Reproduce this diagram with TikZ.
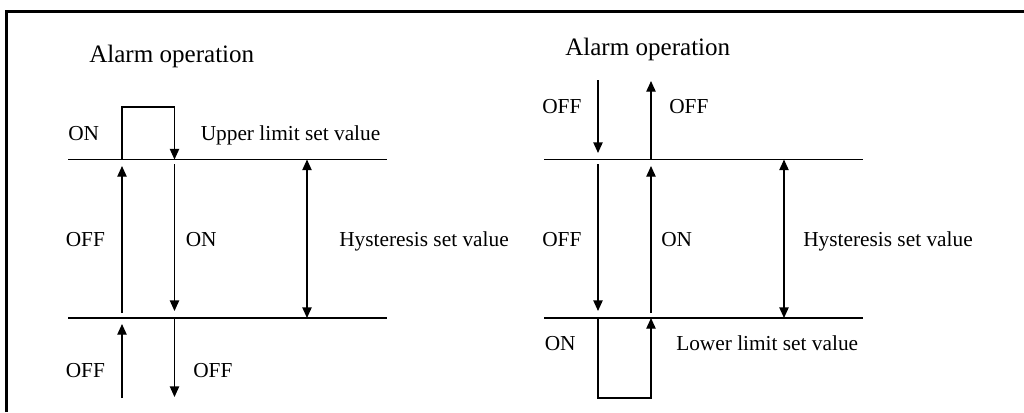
\documentclass[tikz,border=0pt]{standalone}
\usepackage{fontspec}
\setmainfont{Liberation Serif}
\usetikzlibrary{arrows.meta}

\tikzset{
	wire/.style={line width=1pt},
	tip/.style={-{Triangle[length=8pt, width=7pt]}},
	tips/.style={{Triangle[length=8pt, width=7pt]}-{Triangle[length=8pt, width=7pt]}},
	lbl/.style={anchor=base west, inner sep=0pt, font=\fontsize{16}{19}\selectfont},
	ttl/.style={anchor=base west, inner sep=0pt, font=\fontsize{18.8}{22}\selectfont}
}

\begin{document}
\begin{tikzpicture}[x=0.75pt, y=-0.75pt]
	\useasboundingbox (0,0) rectangle (1024,412);
	% Frame:
	\coordinate (F1) at (6,412);
	\coordinate (F2) at (6,11);
	\coordinate (F3) at (1024,11);
	\draw[line width=2.25pt] (F1) -- (F2) -- (F3);

	% Left part, upper limit:
	\node[ttl](T1) at (89,62){Alarm operation};
	\coordinate (A1) at (68,159.5);
	\coordinate (A2) at (387,159.5);
	\coordinate (A3) at (68,318);
	\coordinate (A4) at (387,318);
	\draw[wire] (A1) -- (A2);
	\draw[wire] (A3) -- (A4);
	\coordinate (P1) at (122,159.5);
	\coordinate (P2) at (122,107);
	\coordinate (P3) at (174.5,107);
	\coordinate (P4) at (174.5,159.5);
	\draw[wire, tip] (P1) -- (P2) -- (P3) -- (P4);
	\coordinate (P5) at (122,313);
	\coordinate (P6) at (122,166);
	\draw[wire, tip] (P5) -- (P6);
	\coordinate (P7) at (174.5,164);
	\coordinate (P8) at (174.5,311);
	\draw[wire, tip] (P7) -- (P8);
	\coordinate (P9) at (307,159.5);
	\coordinate (P10) at (307,318);
	\draw[wire, tips] (P9) -- (P10);
	\coordinate (P11) at (122,398);
	\coordinate (P12) at (122,324);
	\draw[wire, tip] (P11) -- (P12);
	\coordinate (P13) at (174.5,318);
	\coordinate (P14) at (174.5,397);
	\draw[wire, tip] (P13) -- (P14);
	\node[lbl](N1) at (68,140){ON};
	\node[lbl](N2) at (200.5,140){Upper limit set value};
	\node[lbl](N3) at (65.5,246){OFF};
	\node[lbl](N4) at (185.5,246){ON};
	\node[lbl](N5) at (339,246){Hysteresis set value};
	\node[lbl](N6) at (65.5,377.5){OFF};
	\node[lbl](N7) at (193,377.5){OFF};

	% Right part, lower limit:
	\node[ttl](T2) at (565,55){Alarm operation};
	\coordinate (B1) at (544,159.5);
	\coordinate (B2) at (863,159.5);
	\coordinate (B3) at (544,318);
	\coordinate (B4) at (863,318);
	\draw[wire] (B1) -- (B2);
	\draw[wire] (B3) -- (B4);
	\coordinate (Q1) at (598,80);
	\coordinate (Q2) at (598,153);
	\draw[wire, tip] (Q1) -- (Q2);
	\coordinate (Q3) at (651,159.5);
	\coordinate (Q4) at (651,81);
	\draw[wire, tip] (Q3) -- (Q4);
	\coordinate (Q5) at (598,164);
	\coordinate (Q6) at (598,311);
	\draw[wire, tip] (Q5) -- (Q6);
	\coordinate (Q7) at (651,313);
	\coordinate (Q8) at (651,166);
	\draw[wire, tip] (Q7) -- (Q8);
	\coordinate (Q9) at (784,159.5);
	\coordinate (Q10) at (784,318);
	\draw[wire, tips] (Q9) -- (Q10);
	\coordinate (Q11) at (598,318);
	\coordinate (Q12) at (598,398);
	\coordinate (Q13) at (651,398);
	\coordinate (Q14) at (651,318);
	\draw[wire, tip] (Q11) -- (Q12) -- (Q13) -- (Q14);
	\node[lbl](N8) at (542,113.5){OFF};
	\node[lbl](N9) at (669,113.5){OFF};
	\node[lbl](N10) at (542,246){OFF};
	\node[lbl](N11) at (661,246){ON};
	\node[lbl](N12) at (803,246){Hysteresis set value};
	\node[lbl](N13) at (544.5,350.5){ON};
	\node[lbl](N14) at (676,350.5){Lower limit set value};
\end{tikzpicture}
\end{document}
